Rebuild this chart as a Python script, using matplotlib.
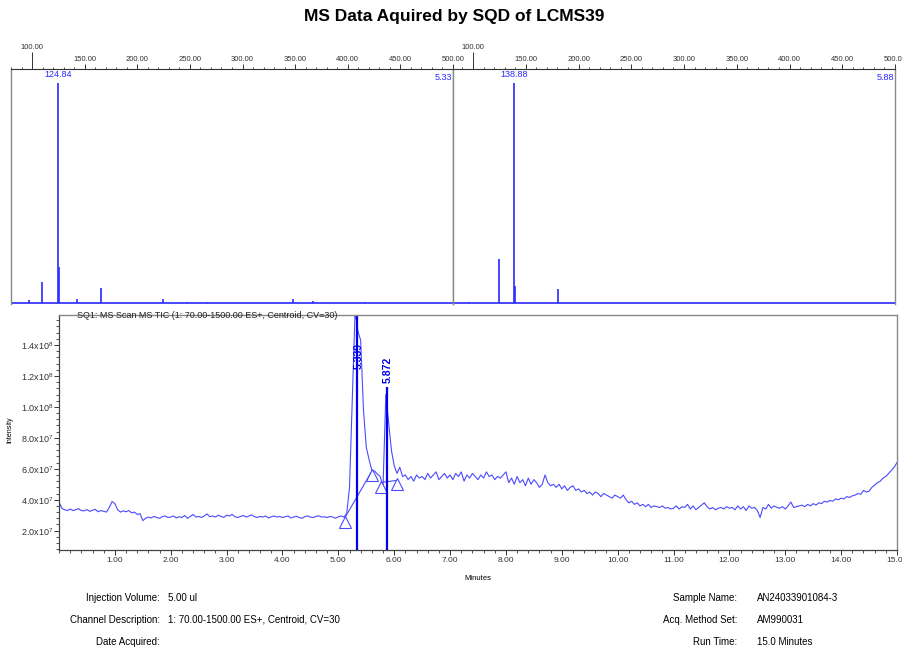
import numpy as np
import matplotlib
matplotlib.use('Agg')
import matplotlib.pyplot as plt
from matplotlib.ticker import MultipleLocator, FixedLocator

plt.rcParams['font.family'] = ['Liberation Sans Narrow', 'Liberation Sans', 'DejaVu Sans']
plt.rcParams['mathtext.fontset'] = 'custom'
plt.rcParams['mathtext.rm'] = 'Liberation Sans'

# ---- data ----
# spectrum at 5.33 min (m/z, relative intensity)
spec1_mz = [97.0, 109.8, 124.84, 125.85, 142.4, 165.5, 224.7, 247.0, 266.0, 348.0, 366.6, 416.0]
spec1_int = [1.2, 9.6, 100.0, 16.5, 1.6, 6.7, 1.5, 0.5, 0.4, 1.5, 0.6, 0.3]
spec1_label = ('124.84', '5.33')

# spectrum at 5.88 min
spec2_mz = [96.0, 124.4, 138.88, 139.9, 180.2]
spec2_int = [0.4, 20.0, 100.0, 7.5, 6.3]
spec2_label = ('138.88', '5.88')

# TIC trace, one value every 0.05 min from 0 to 15 (units of 1e7)
tic = [
    3.85, 3.45, 3.35, 3.30, 3.40, 3.30, 3.35, 3.42, 3.30, 3.28, 3.36, 3.25, 3.32, 3.38, 3.22, 3.30, 3.25, 3.20, 3.50, 3.88,
    3.75, 3.35, 3.20, 3.28, 3.22, 3.30, 3.15, 3.20, 3.05, 3.10, 2.65, 2.80, 2.88, 2.82, 2.92, 2.85, 2.80, 2.90, 2.95, 2.85,
    2.88, 2.95, 2.82, 2.90, 2.85, 2.98, 2.80, 2.92, 3.05, 2.88, 2.92, 2.85, 2.95, 3.08, 2.90, 2.95, 2.88, 3.00, 2.92, 2.86,
    3.00, 2.95, 3.05, 2.90, 2.85, 2.92, 2.98, 2.88, 2.95, 3.02, 2.90, 2.85, 2.92, 2.88, 2.95, 2.82, 2.90, 2.95, 2.88, 2.92,
    2.85, 2.90, 2.95, 2.82, 2.88, 2.93, 2.85, 2.80, 2.90, 2.95, 2.88, 2.85, 2.92, 2.96, 2.88, 2.90, 2.85, 2.92, 2.88, 2.80,
    2.90, 2.95, 2.88, 3.10, 4.80, 10.5, 16.2, 14.9, 14.3, 9.80, 7.40, 6.60, 5.90, 5.85, 5.65, 5.50, 4.80, 10.8, 9.00, 7.20,
    6.20, 5.70, 6.10, 5.50, 5.60, 5.30, 5.50, 5.20, 5.60, 5.40, 5.50, 5.30, 5.70, 5.40, 5.60, 5.80, 5.30, 5.50, 5.70, 5.40,
    5.60, 5.30, 5.70, 5.50, 5.80, 5.20, 5.60, 5.40, 5.70, 5.50, 5.30, 5.60, 5.40, 5.80, 5.50, 5.60, 5.30, 5.50, 5.40, 5.60,
    5.80, 5.10, 5.40, 5.00, 5.50, 5.10, 5.30, 4.90, 5.40, 5.00, 5.30, 5.10, 4.80, 5.00, 5.60, 5.10, 4.90, 5.00, 4.80, 5.00,
    4.70, 4.90, 4.60, 4.80, 4.90, 4.60, 4.70, 4.50, 4.60, 4.40, 4.50, 4.30, 4.50, 4.40, 4.20, 4.40, 4.30, 4.20, 4.10, 4.30,
    4.20, 4.10, 4.30, 4.00, 3.80, 3.90, 3.70, 3.80, 3.60, 3.70, 3.55, 3.70, 3.50, 3.60, 3.55, 3.50, 3.60, 3.45, 3.50, 3.40,
    3.45, 3.60, 3.40, 3.55, 3.50, 3.70, 3.40, 3.60, 3.35, 3.50, 3.65, 3.80, 3.55, 3.40, 3.50, 3.35, 3.45, 3.50, 3.40, 3.55,
    3.45, 3.50, 3.35, 3.60, 3.40, 3.55, 3.30, 3.60, 3.45, 3.50, 3.30, 2.85, 3.50, 3.40, 3.70, 3.45, 3.60, 3.50, 3.45, 3.55,
    3.40, 3.60, 3.85, 3.50, 3.55, 3.60, 3.65, 3.55, 3.70, 3.60, 3.75, 3.65, 3.80, 3.75, 3.90, 3.85, 3.95, 3.90, 4.05, 4.00,
    4.10, 4.05, 4.20, 4.15, 4.25, 4.30, 4.40, 4.35, 4.60, 4.50, 4.55, 4.80, 4.95, 5.10, 5.20, 5.40, 5.50, 5.70, 5.90, 6.10,
    6.40,
]
tic_start, tic_end = 0.0, 15.0

# integration baseline markers (min, 1e7)
base_t = [5.12, 5.60, 5.76, 6.05]
base_y = [2.55, 5.60, 4.80, 5.00]
base_lines = [((5.12, 2.85), (5.60, 5.85)), ((5.77, 5.12), (6.05, 5.25))]

# labelled peaks: retention time, apex height (1e7), label
peak_rt = [5.339, 5.872]
peak_top = [16.0, 11.3]
peak_lab = ['5.339', '5.872']

info_left = [('Injection Volume:', '5.00 ul'),
             ('Channel Description:', '1: 70.00-1500.00 ES+, Centroid, CV=30'),
             ('Date Acquired:', '')]
info_right = [('Sample Name:', 'AN24033901084-3'),
              ('Acq. Method Set:', 'AM990031'),
              ('Run Time:', '15.0 Minutes')]

W, H = 903, 657
fig = plt.figure(figsize=(W / 100, H / 100), dpi=100)


def px_axes(l, t, r, b):
    return fig.add_axes([l / W, 1 - b / H, (r - l) / W, (b - t) / H])


blue = '#2a2aff'
dark_blue = '#0000ee'

fig.text(454 / W, 1 - 16 / H, 'MS Data Aquired by SQD of LCMS39', ha='center', va='center',
         fontsize=12.5, fontweight='bold')


def spectrum(ax, mz, inten, labels, xmin):
    ax.vlines(mz, 0, inten, color=blue, lw=1.2)
    ax.axhline(0, color=blue, lw=1.2)
    ax.set_xlim(xmin, 500)
    ax.set_ylim(-0.6, 106.6)
    ax.set_yticks([])
    ax.xaxis.tick_top()
    ax.xaxis.set_major_locator(FixedLocator([150, 200, 250, 300, 350, 400, 450, 500]))
    ax.xaxis.set_minor_locator(MultipleLocator(10))
    ax.set_xticklabels(['%.2f' % v for v in [150, 200, 250, 300, 350, 400, 450, 500]])
    ax.tick_params(axis='x', which='major', length=3.6, width=0.7, labelsize=5.5, pad=1, colors='#333333')
    ax.tick_params(axis='x', which='minor', length=1.8, width=0.6, colors='#333333')
    sec = ax.secondary_xaxis('top')
    sec.set_xticks([100])
    sec.set_xticklabels(['100.00'])
    sec.tick_params(length=12, width=0.7, labelsize=5.5, pad=1, colors='#333333')
    sec.spines['top'].set_visible(False)
    for s in ['left', 'right']:
        ax.spines[s].set_color('#888888')
        ax.spines[s].set_linewidth(1.0)
    ax.spines['bottom'].set_visible(False)
    ax.spines['top'].set_color('#333333')
    ax.spines['top'].set_linewidth(0.8)
    top_i = int(np.argmax(inten))
    ax.annotate(labels[0], (mz[top_i], inten[top_i]), xytext=(0, 3), textcoords='offset points',
                ha='center', va='bottom', color=blue, fontsize=6.5)
    ax.text(0.997, 0.965, labels[1], transform=ax.transAxes, ha='right', va='center',
            color=blue, fontsize=6.5)


ax1 = px_axes(11, 69, 453, 304)
spectrum(ax1, spec1_mz, spec1_int, spec1_label, 80)
ax2 = px_axes(453, 69, 895, 304)
spectrum(ax2, spec2_mz, spec2_int, spec2_label, 81)

# ---- chromatogram ----
ax3 = px_axes(59, 315, 897, 550)
t = np.linspace(tic_start, tic_end, len(tic))
ax3.plot(t, np.array(tic) * 1e7, color='#4a4aff', lw=0.8)
for (x0, y0), (x1, y1) in base_lines:
    ax3.plot([x0, x1], [y0 * 1e7, y1 * 1e7], color='#4a4aff', lw=0.8)
ax3.plot(base_t, np.array(base_y) * 1e7, ls='none', marker='^', ms=8, mfc='white',
         mec='#4a4aff', mew=0.8)
ymin, ymax = 0.75e7, 1.594e8
ax3.vlines(peak_rt, ymin, np.array(peak_top) * 1e7, color=dark_blue, lw=1.6)
for rt, lab, ty in zip(peak_rt, peak_lab, [13.3, 12.4]):
    ax3.text(rt + 0.02, ty * 1e7, lab, rotation=90, ha='center', va='center',
             color=dark_blue, fontsize=7.5, fontweight='bold')
ax3.set_xlim(tic_start, tic_end)
ax3.set_ylim(ymin, ymax)
ax3.xaxis.set_major_locator(FixedLocator(range(1, 16)))
ax3.xaxis.set_minor_locator(MultipleLocator(0.2))
ax3.set_xticklabels(['%.2f' % v for v in range(1, 16)])
yt = [2e7, 4e7, 6e7, 8e7, 1e8, 1.2e8, 1.4e8]
ax3.yaxis.set_major_locator(FixedLocator(yt))
ax3.yaxis.set_minor_locator(MultipleLocator(0.4e7))


def sci(v):
    e = int(np.floor(np.log10(v)))
    return '%.1fx10$^{%d}$' % (v / 10 ** e, e)


ax3.set_yticklabels([sci(v) for v in yt])
ax3.tick_params(axis='x', which='major', length=3.6, width=0.7, labelsize=6, pad=1.5, colors='#333333')
ax3.tick_params(axis='y', which='major', length=3.6, width=0.7, labelsize=6.5, pad=0.5, colors='#333333')
ax3.tick_params(which='minor', length=2, width=0.6, colors='#333333')
for s in ['left', 'bottom']:
    ax3.spines[s].set_color('#444444')
    ax3.spines[s].set_linewidth(0.9)
for s in ['top', 'right']:
    ax3.spines[s].set_color('#888888')
    ax3.spines[s].set_linewidth(1.0)
fig.text(77 / W, 1 - 316 / H, 'SQ1: MS Scan MS TIC (1: 70.00-1500.00 ES+, Centroid, CV=30)',
         fontsize=6.5, ha='left', va='center', color='#222222')
fig.text(10 / W, 1 - 430 / H, 'Intensity', rotation=90, ha='center', va='center', fontsize=5)
fig.text(478 / W, 1 - 578 / H, 'Minutes', ha='center', va='center', fontsize=5.5)

for i, (lab, val) in enumerate(info_left):
    y = 1 - (598 + 22 * i) / H
    fig.text(160 / W, y, lab, ha='right', va='center', fontsize=7)
    fig.text(168 / W, y, val, ha='left', va='center', fontsize=7)
for i, (lab, val) in enumerate(info_right):
    y = 1 - (598 + 22 * i) / H
    fig.text(737 / W, y, lab, ha='right', va='center', fontsize=7)
    fig.text(757 / W, y, val, ha='left', va='center', fontsize=7)

fig.savefig('out.png', dpi=100)
